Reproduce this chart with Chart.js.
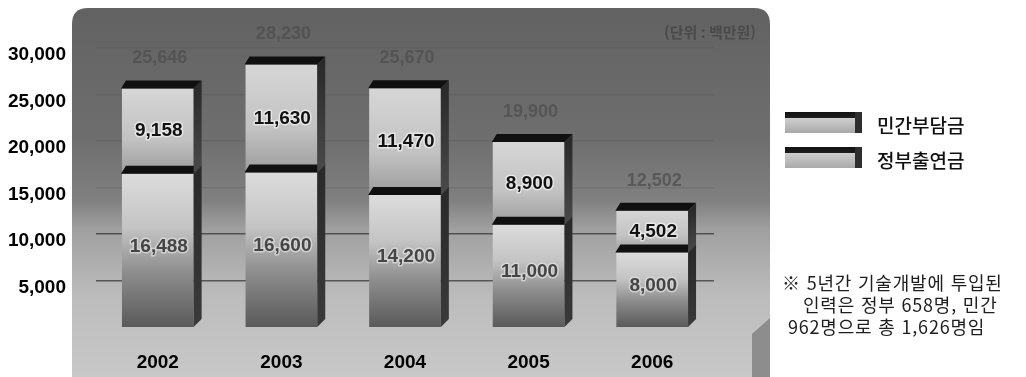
<!DOCTYPE html>
<html lang="ko">
<head>
<meta charset="utf-8">
<script src="https://cdn.jsdelivr.net/npm/chart.js@4.4.1/dist/chart.umd.min.js"></script>
<style>
html,body{margin:0;padding:0;background:#fff;width:1026px;height:377px;overflow:hidden;}
#wrap{position:relative;width:1026px;height:377px;}
canvas{position:absolute;left:0;top:0;}
.legtxt{position:absolute;left:877px;height:22px;line-height:22px;font-family:"Noto Sans CJK KR","Noto Sans",sans-serif;font-size:19px;font-weight:500;color:#111;white-space:nowrap;}
.sw{position:absolute;left:785px;width:70px;height:21px;border-right:7px solid #2e2e2e;
  background:linear-gradient(to bottom,#121212 0,#1e1e1e 6px,#cfcfcf 6px,#a9a9a9 100%);}
.note{position:absolute;height:22px;line-height:22px;font-family:"Noto Sans CJK KR","Noto Sans",sans-serif;font-size:18px;letter-spacing:0.8px;color:#1e1e1e;white-space:nowrap;}
</style>
</head>
<body>
<div id="wrap">
<canvas id="c" width="1026" height="377"></canvas>
</div>
<script>
// ---- data ----
const years = ['2002', '2003', '2004', '2005', '2006'];
const seriesNames = ['민간부담금', '정부출연금'];
const privateValues = [9158, 11630, 11470, 8900, 4502];      // 민간부담금 (upper)
const governmentValues = [16488, 16600, 14200, 11000, 8000]; // 정부출연금 (lower)
const totalValues = [25646, 28230, 25670, 19900, 12502];
const yTickValues = [5000, 10000, 15000, 20000, 25000, 30000];
const unitLabel = '(단위 : 백만원)';
const noteLines = ['※ 5년간 기술개발에 투입된', '인력은 정부 658명, 민간', '962명으로 총 1,626명임'];

const fmt = v => v.toLocaleString('en-US');

function segGradient(ctx, lower) {
  const chart = ctx.chart;
  const ys = chart.scales.y;
  if (!ys || ctx.dataIndex === undefined) return '#bbb';
  const i = ctx.dataIndex;
  let top, base;
  if (lower) { base = ys.getPixelForValue(0); top = ys.getPixelForValue(governmentValues[i]); }
  else { base = ys.getPixelForValue(governmentValues[i]); top = ys.getPixelForValue(governmentValues[i] + privateValues[i]); }
  if (!isFinite(top) || !isFinite(base)) return '#bbb';
  const g = chart.ctx.createLinearGradient(0, top, 0, base);
  if (lower) {
    g.addColorStop(0, '#dcdcdc');
    g.addColorStop(0.35, '#c4c4c4');
    g.addColorStop(0.65, '#8c8c8c');
    g.addColorStop(1, '#5a5a5a');
  } else {
    g.addColorStop(0, '#d6d6d6');
    g.addColorStop(0.6, '#c2c2c2');
    g.addColorStop(1, '#9c9c9c');
  }
  return g;
}

const panelPlugin = {
  id: 'panel',
  beforeDraw(chart) {
    const {ctx, chartArea: a} = chart;
    const L = a.left - 24, R = a.right + 56, T = 8, B = 377, r = 16;
    ctx.save();
    const g = ctx.createLinearGradient(0, T, 0, B);
    g.addColorStop(0, '#626262');
    g.addColorStop(0.35, '#6e6e6e');
    g.addColorStop(0.52, '#808080');
    g.addColorStop(0.6, '#a0a0a0');
    g.addColorStop(0.78, '#bcbcbc');
    g.addColorStop(1, '#c8c8c8');
    ctx.fillStyle = g;
    ctx.beginPath();
    ctx.moveTo(L, B);
    ctx.lineTo(L, T + r);
    ctx.quadraticCurveTo(L, T, L + r, T);
    ctx.lineTo(R - r, T);
    ctx.quadraticCurveTo(R, T, R, T + r);
    ctx.lineTo(R, B);
    ctx.closePath();
    ctx.fill();
    ctx.fillStyle = '#8d8d8d';
    ctx.beginPath();
    ctx.moveTo(R - 18, B);
    ctx.lineTo(R - 18, 334);
    ctx.lineTo(R, 318);
    ctx.lineTo(R, B);
    ctx.closePath();
    ctx.fill();
    ctx.font = 'bold 15px "Noto Sans CJK KR", sans-serif';
    ctx.fillStyle = '#4a4a4a';
    ctx.textAlign = 'right';
    ctx.textBaseline = 'middle';
    ctx.fillText(unitLabel, R - 14, 32);
    ctx.restore();
  }
};

const barsPlugin = {
  id: 'bars3d',
  afterDatasetsDraw(chart) {
    const ctx = chart.ctx;
    const d = 8;
    ctx.save();
    chart.data.datasets.forEach((ds, di) => {
      const meta = chart.getDatasetMeta(di);
      meta.data.forEach((el) => {
        const {x, y, base, width} = el.getProps(['x', 'y', 'base', 'width'], true);
        const l = x - width / 2, rr = x + width / 2;
        const sg = ctx.createLinearGradient(0, y, 0, base);
        sg.addColorStop(0, '#2a2a2a');
        sg.addColorStop(1, di === 0 ? '#3a3a3a' : '#4a4a4a');
        ctx.fillStyle = sg;
        ctx.beginPath();
        ctx.moveTo(rr, y); ctx.lineTo(rr + d, y - d); ctx.lineTo(rr + d, base - d); ctx.lineTo(rr, base);
        ctx.closePath(); ctx.fill();
        ctx.fillStyle = '#101010';
        ctx.beginPath();
        ctx.moveTo(l - 1, y); ctx.lineTo(l + 4, y - d); ctx.lineTo(rr + d, y - d); ctx.lineTo(rr, y);
        ctx.closePath(); ctx.fill();
      });
    });
    ctx.textAlign = 'center';
    ctx.textBaseline = 'middle';
    ctx.lineJoin = 'round';
    chart.data.datasets.forEach((ds, di) => {
      const meta = chart.getDatasetMeta(di);
      meta.data.forEach((el, i) => {
        const {x, y, base} = el.getProps(['x', 'y', 'base'], true);
        const cy = (y + base) / 2 + (di === 0 ? -4 : 0);
        ctx.font = 'bold 19px "Liberation Sans", Arial, sans-serif';
        ctx.lineWidth = 3;
        ctx.strokeStyle = di === 0 ? 'rgba(225,225,225,0.7)' : 'rgba(255,255,255,0.55)';
        ctx.strokeText(fmt(ds.data[i]), x + 1, cy);
        ctx.fillStyle = di === 0 ? '#454545' : '#111111';
        ctx.fillText(fmt(ds.data[i]), x + 1, cy);
      });
    });
    const top = chart.getDatasetMeta(1);
    top.data.forEach((el, i) => {
      const {x, y} = el.getProps(['x', 'y'], true);
      ctx.font = 'bold 18px "Liberation Sans", Arial, sans-serif';
      ctx.fillStyle = 'rgba(78,78,78,0.75)';
      ctx.fillText(fmt(totalValues[i]), x + 2, y - 30);
    });
    ctx.restore();
  }
};

new Chart(document.getElementById('c'), {
  type: 'bar',
  data: {
    labels: years,
    datasets: [
      { label: seriesNames[1], data: governmentValues, backgroundColor: c => segGradient(c, true), borderWidth: 0, stack: 's' },
      { label: seriesNames[0], data: privateValues, backgroundColor: c => segGradient(c, false), borderWidth: 0, stack: 's' }
    ]
  },
  options: {
    responsive: false,
    animation: false,
    devicePixelRatio: 1,
    layout: { padding: { left: 0, right: 312, top: 48, bottom: 0 } },
    plugins: { legend: { display: false }, tooltip: { enabled: false } },
    datasets: { bar: { barPercentage: 0.58, categoryPercentage: 1 } },
    scales: {
      x: {
        stacked: true,
        grid: { display: false, drawTicks: false },
        border: { display: false },
        ticks: { color: '#000', font: { family: '"Liberation Sans", Arial, sans-serif', size: 19, weight: 'bold' }, padding: 24 },
        afterFit: s => { s.height = 50; }
      },
      y: {
        stacked: true,
        min: 0, max: 30000,
        afterBuildTicks: s => { s.ticks = yTickValues.map(v => ({ value: v })); },
        grid: {
          color: c => (c.tick && c.tick.value >= 15000) ? 'rgba(50,50,50,0.12)' : 'rgba(45,45,45,0.7)',
          lineWidth: 1.5, drawTicks: false
        },
        border: { display: false },
        ticks: {
          color: '#000', padding: 30, labelOffset: 7,
          font: { family: '"Liberation Sans", Arial, sans-serif', size: 19, weight: 'bold' },
          callback: v => fmt(v)
        },
        afterFit: s => { s.width = 96; }
      }
    }
  },
  plugins: [panelPlugin, barsPlugin]
});

const wrap = document.getElementById('wrap');
const legTops = [112, 147];
seriesNames.forEach((name, k) => {
  const sw = document.createElement('div');
  sw.className = 'sw';
  sw.style.top = legTops[k] + 'px';
  wrap.appendChild(sw);
  const t = document.createElement('div');
  t.className = 'legtxt';
  t.style.top = (legTops[k] + 2) + 'px';
  t.textContent = name;
  wrap.appendChild(t);
});
const noteLefts = [782, 803, 788];
noteLines.forEach((line, k) => {
  const n = document.createElement('div');
  n.className = 'note';
  n.style.left = noteLefts[k] + 'px';
  n.style.top = (271 + k * 22) + 'px';
  n.textContent = line;
  wrap.appendChild(n);
});
</script>
</body>
</html>
